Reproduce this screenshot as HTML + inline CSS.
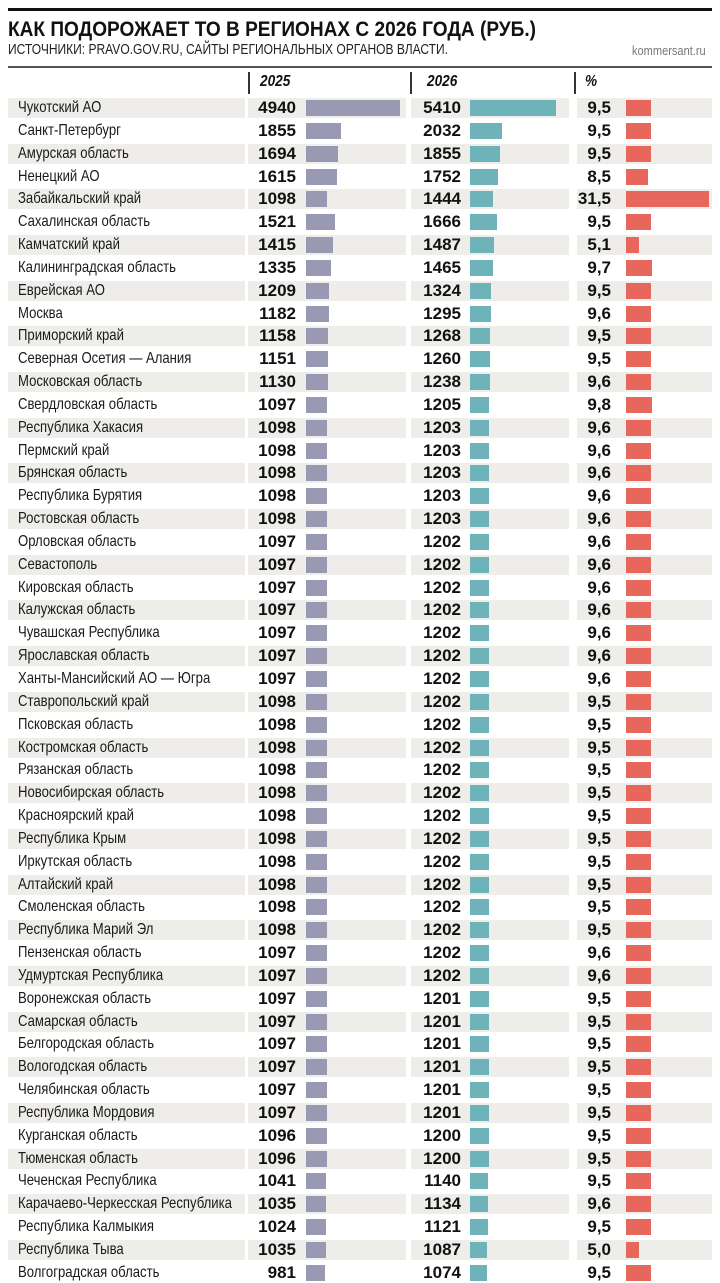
<!DOCTYPE html>
<html><head><meta charset="utf-8">
<style>
body{margin:0;background:#fff;width:720px;height:1280px;overflow:hidden;position:relative;font-family:"Liberation Sans",sans-serif;color:#111}
.a{position:absolute;white-space:nowrap}
.fit{transform-origin:0 0;display:inline-block}
.bg{position:absolute;background:#eeede9;height:20px}
.lab{position:absolute;left:18px;font-size:16px;line-height:20px;transform:scaleX(0.82);transform-origin:0 50%;white-space:nowrap;color:#1a1a1a}
.num{position:absolute;font-size:17px;font-weight:bold;line-height:20px;text-align:right;width:60px}
.bar{position:absolute;height:16px}
</style></head><body>
<div class="a" style="left:8px;top:8px;width:704px;height:3px;background:#111"></div>
<div class="a" id="t" style="left:8px;top:18px;font-size:21px;font-weight:bold;line-height:24px"><span class="fit" id="t1">КАК ПОДОРОЖАЕТ ТО В РЕГИОНАХ С 2026 ГОДА (РУБ.)</span></div>
<div class="a" style="left:8px;top:41px;font-size:15px;line-height:18px;color:#222"><span class="fit" id="t2">ИСТОЧНИКИ: PRAVO.GOV.RU, САЙТЫ РЕГИОНАЛЬНЫХ ОРГАНОВ ВЛАСТИ.</span></div>
<div class="a" style="right:14px;top:43px;font-size:13px;line-height:16px;color:#777;transform:scaleX(0.85);transform-origin:100% 0">kommersant.ru</div>
<div class="a" style="left:8px;top:66px;width:704px;height:2px;background:#555"></div>
<div class="a" style="left:248px;top:72px;width:2px;height:22px;background:#333"></div>
<div class="a" style="left:410px;top:72px;width:2px;height:22px;background:#333"></div>
<div class="a" style="left:574px;top:72px;width:2px;height:22px;background:#333"></div>
<div class="a" style="left:260px;top:73px;font-size:16px;font-weight:bold;font-style:italic;transform:scaleX(0.85);transform-origin:0 0">2025</div>
<div class="a" style="left:427px;top:73px;font-size:16px;font-weight:bold;font-style:italic;transform:scaleX(0.85);transform-origin:0 0">2026</div>
<div class="a" style="left:585px;top:73px;font-size:16px;font-weight:bold;font-style:italic;transform:scaleX(0.85);transform-origin:0 0">%</div>
<div id="rows"></div>
<script>
var d=[
["Чукотский АО",4940,5410,"9,5"],["Санкт-Петербург",1855,2032,"9,5"],["Амурская область",1694,1855,"9,5"],["Ненецкий АО",1615,1752,"8,5"],["Забайкальский край",1098,1444,"31,5"],["Сахалинская область",1521,1666,"9,5"],["Камчатский край",1415,1487,"5,1"],["Калининградская область",1335,1465,"9,7"],["Еврейская АО",1209,1324,"9,5"],["Москва",1182,1295,"9,6"],["Приморский край",1158,1268,"9,5"],["Северная Осетия — Алания",1151,1260,"9,5"],["Московская область",1130,1238,"9,6"],["Свердловская область",1097,1205,"9,8"],["Республика Хакасия",1098,1203,"9,6"],["Пермский край",1098,1203,"9,6"],["Брянская область",1098,1203,"9,6"],["Республика Бурятия",1098,1203,"9,6"],["Ростовская область",1098,1203,"9,6"],["Орловская область",1097,1202,"9,6"],["Севастополь",1097,1202,"9,6"],["Кировская область",1097,1202,"9,6"],["Калужская область",1097,1202,"9,6"],["Чувашская Республика",1097,1202,"9,6"],["Ярославская область",1097,1202,"9,6"],["Ханты-Мансийский АО — Югра",1097,1202,"9,6"],["Ставропольский край",1098,1202,"9,5"],["Псковская область",1098,1202,"9,5"],["Костромская область",1098,1202,"9,5"],["Рязанская область",1098,1202,"9,5"],["Новосибирская область",1098,1202,"9,5"],["Красноярский край",1098,1202,"9,5"],["Республика Крым",1098,1202,"9,5"],["Иркутская область",1098,1202,"9,5"],["Алтайский край",1098,1202,"9,5"],["Смоленская область",1098,1202,"9,5"],["Республика Марий Эл",1098,1202,"9,5"],["Пензенская область",1097,1202,"9,6"],["Удмуртская Республика",1097,1202,"9,6"],["Воронежская область",1097,1201,"9,5"],["Самарская область",1097,1201,"9,5"],["Белгородская область",1097,1201,"9,5"],["Вологодская область",1097,1201,"9,5"],["Челябинская область",1097,1201,"9,5"],["Республика Мордовия",1097,1201,"9,5"],["Курганская область",1096,1200,"9,5"],["Тюменская область",1096,1200,"9,5"],["Чеченская Республика",1041,1140,"9,5"],["Карачаево-Черкесская Республика",1035,1134,"9,6"],["Республика Калмыкия",1024,1121,"9,5"],["Республика Тыва",1035,1087,"5,0"],["Волгоградская область",981,1074,"9,5"]];
var h="";
for(var i=0;i<d.length;i++){
 var r=d[i],c=108+22.84*i,t=c-10,p=parseFloat(r[3].replace(",","."));
 if(i%2==0){
  h+='<div class="bg" style="left:8px;width:237px;top:'+t+'px"></div>';
  h+='<div class="bg" style="left:248px;width:158px;top:'+t+'px"></div>';
  h+='<div class="bg" style="left:411px;width:158px;top:'+t+'px"></div>';
  h+='<div class="bg" style="left:577px;width:135px;top:'+t+'px"></div>';
 }
 h+='<div class="lab" style="top:'+t+'px">'+r[0]+'</div>';
 h+='<div class="num" style="left:236px;top:'+t+'px">'+r[1]+'</div>';
 h+='<div class="bar" style="left:306px;width:'+(r[1]*0.019).toFixed(1)+'px;top:'+(c-8)+'px;background:#9a99b4"></div>';
 h+='<div class="num" style="left:401px;top:'+t+'px">'+r[2]+'</div>';
 h+='<div class="bar" style="left:470px;width:'+(r[2]*0.0159).toFixed(1)+'px;top:'+(c-8)+'px;background:#6db3b9"></div>';
 h+='<div class="num" style="left:551px;top:'+t+'px">'+r[3]+'</div>';
 h+='<div class="bar" style="left:626px;width:'+Math.min(p*2.63,86).toFixed(1)+'px;top:'+(c-8)+'px;background:#e8675c"></div>';
}
document.getElementById("rows").innerHTML=h;
function fit(id,w){var e=document.getElementById(id);var s=w/e.getBoundingClientRect().width;e.style.transform="scaleX("+s+")";}
fit("t1",528);fit("t2",440);
</script>
</body></html>
